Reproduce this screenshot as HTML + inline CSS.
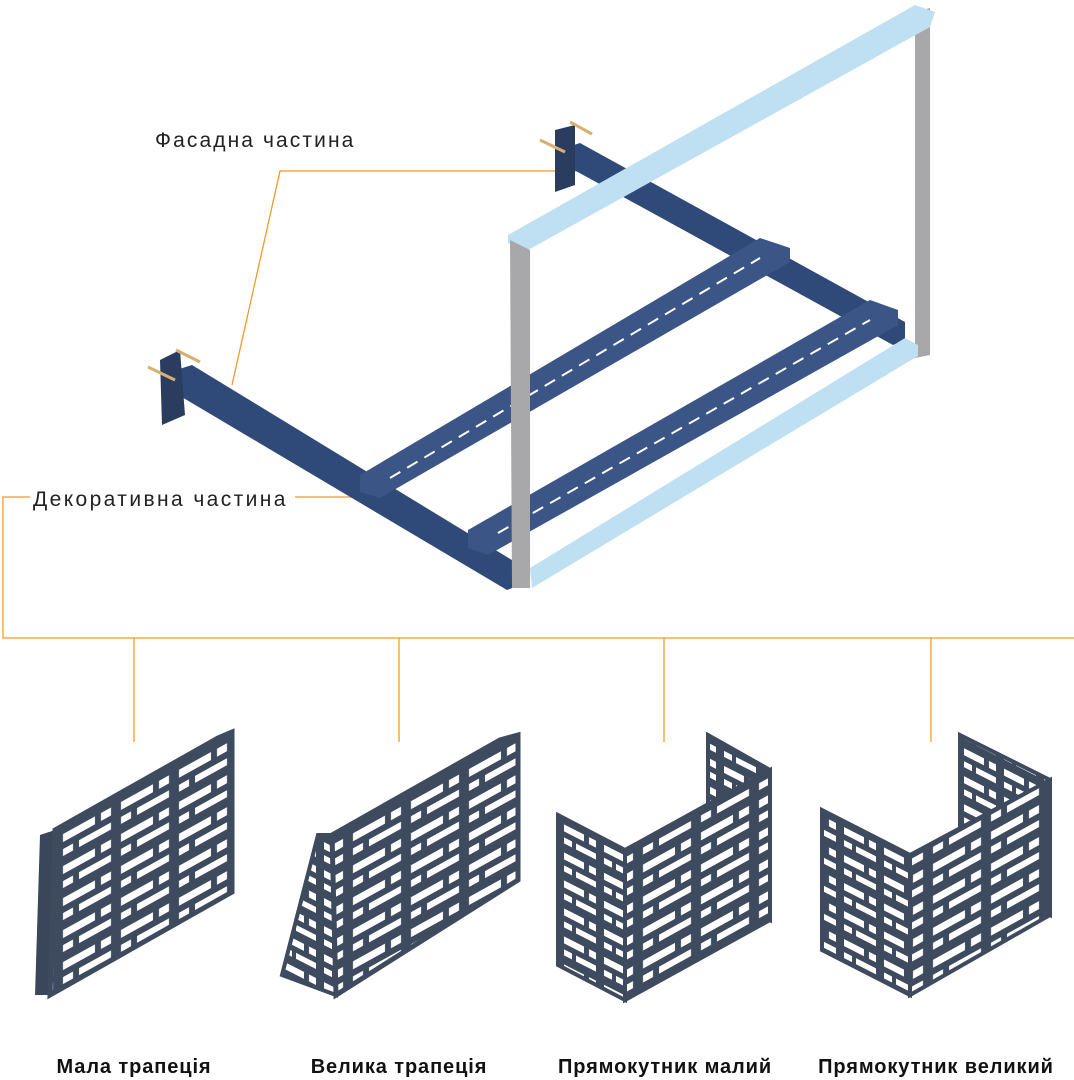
<!DOCTYPE html>
<html><head><meta charset="utf-8"><style>
body{margin:0;background:#fff;}
svg{display:block;}
text{font-family:"Liberation Sans",sans-serif;}
</style></head><body>
<svg width="1074" height="1080" viewBox="0 0 1074 1080" xmlns="http://www.w3.org/2000/svg">
<defs>
<pattern id="pR" width="58" height="32" patternUnits="userSpaceOnUse" patternTransform="skewY(-29)">
<rect x="0" y="0" width="58" height="32" fill="#3e4a5e"/>
<rect x="5" y="5" width="32" height="8" fill="#fff"/>
<rect x="43" y="5" width="10" height="8" fill="#fff"/>
<rect x="5" y="20" width="10" height="7" fill="#fff"/>
<rect x="21" y="20" width="32" height="7" fill="#fff"/>
</pattern>
<pattern id="pL" width="40" height="28" patternUnits="userSpaceOnUse" patternTransform="skewY(27)">
<rect x="0" y="0" width="40" height="28" fill="#3e4a5e"/>
<rect x="4" y="5" width="20" height="7" fill="#fff"/>
<rect x="29" y="5" width="7" height="7" fill="#fff"/>
<rect x="4" y="18" width="8" height="6" fill="#fff"/>
<rect x="16" y="18" width="20" height="6" fill="#fff"/>
</pattern>
</defs>

<g stroke="#f39a26" stroke-width="1.3" fill="none">
<polyline points="590,171 280,171 232,385"/>
<line x1="295" y1="497" x2="400" y2="497"/>
<polyline points="30,497 3,497 3,638 1074,638"/>
<line x1="134" y1="638" x2="134" y2="742"/>
<line x1="399" y1="638" x2="399" y2="742"/>
<line x1="664" y1="638" x2="664" y2="742"/>
<line x1="931" y1="638" x2="931" y2="742"/>
</g>
<text x="155" y="147" font-size="21" letter-spacing="2.1" fill="#222">Фасадна частина</text>
<text x="33" y="506" font-size="21" letter-spacing="2.4" fill="#222">Декоративна частина</text>

<polygon points="915,12 930,8 930,355 915,358" fill="#a8a8aa"/>
<polygon points="565,148 580,143 905,322 905,340 893,345 565,165" fill="#2f4a78"/>
<polygon points="555,130 575,125 575,185 555,192" fill="#2b3d5e"/>
<polygon points="170,372 192,365 520,565 520,585 507,590 170,390" fill="#2f4a78"/>
<polygon points="160,360 180,350 185,415 162,425" fill="#2b3d5e"/>
<g stroke="#d8b070" stroke-width="3">
<line x1="148" y1="367" x2="175" y2="380"/><line x1="176" y1="350" x2="200" y2="362"/>
<line x1="540" y1="140" x2="565" y2="152"/><line x1="570" y1="122" x2="592" y2="134"/>
</g>
<polygon points="360,475 760,238 790,248 790,262 380,498 360,492" fill="#3a5586"/>
<polygon points="468,530 870,300 898,310 898,325 488,555 468,548" fill="#3a5586"/>
<g stroke="#fff" stroke-width="2" stroke-dasharray="12,8">
<line x1="390" y1="478" x2="760" y2="258"/>
<line x1="498" y1="533" x2="870" y2="320"/>
</g>
<polygon points="508,235 915,5 935,12 930,27 528,250 508,243" fill="#bfe0f2"/>
<polygon points="510,240 530,250 530,588 512,588" fill="#a8a8aa"/>
<polygon points="530,568 905,338 918,345 918,356 532,588" fill="#bfe0f2"/>

<polygon points="40,835 55,830 50,995 35,995" fill="#3a465a"/>
<polygon points="55,830 218,738 232,732 232,892 50,995" fill="url(#pR)" stroke="#3e4a5e" stroke-width="5"/>
<polygon points="318,835 332,835 336,995 282,975" fill="url(#pL)" stroke="#3e4a5e" stroke-width="4"/>
<polygon points="332,835 500,740 518,735 518,880 336,995" fill="url(#pR)" stroke="#3e4a5e" stroke-width="5"/>
<polygon points="708,735 770,770 770,920 708,885" fill="url(#pL)" stroke="#3e4a5e" stroke-width="4"/>
<polygon points="558,815 625,850 625,1000 558,965" fill="url(#pL)" stroke="#3e4a5e" stroke-width="4"/>
<polygon points="625,850 770,770 770,920 625,1000" fill="url(#pR)" stroke="#3e4a5e" stroke-width="4"/>
<polygon points="960,735 1050,780 1050,915 960,870" fill="url(#pL)" stroke="#3e4a5e" stroke-width="4"/>
<polygon points="822,810 910,855 910,995 822,950" fill="url(#pL)" stroke="#3e4a5e" stroke-width="4"/>
<polygon points="910,855 1050,780 1050,915 910,995" fill="url(#pR)" stroke="#3e4a5e" stroke-width="4"/>

<g font-size="20" font-weight="bold" fill="#111" text-anchor="middle" letter-spacing="0.9">
<text x="134" y="1073">Мала трапеція</text>
<text x="399" y="1073">Велика трапеція</text>
<text x="665" y="1073">Прямокутник малий</text>
<text x="936" y="1073">Прямокутник великий</text>
</g>
</svg>
</body></html>
